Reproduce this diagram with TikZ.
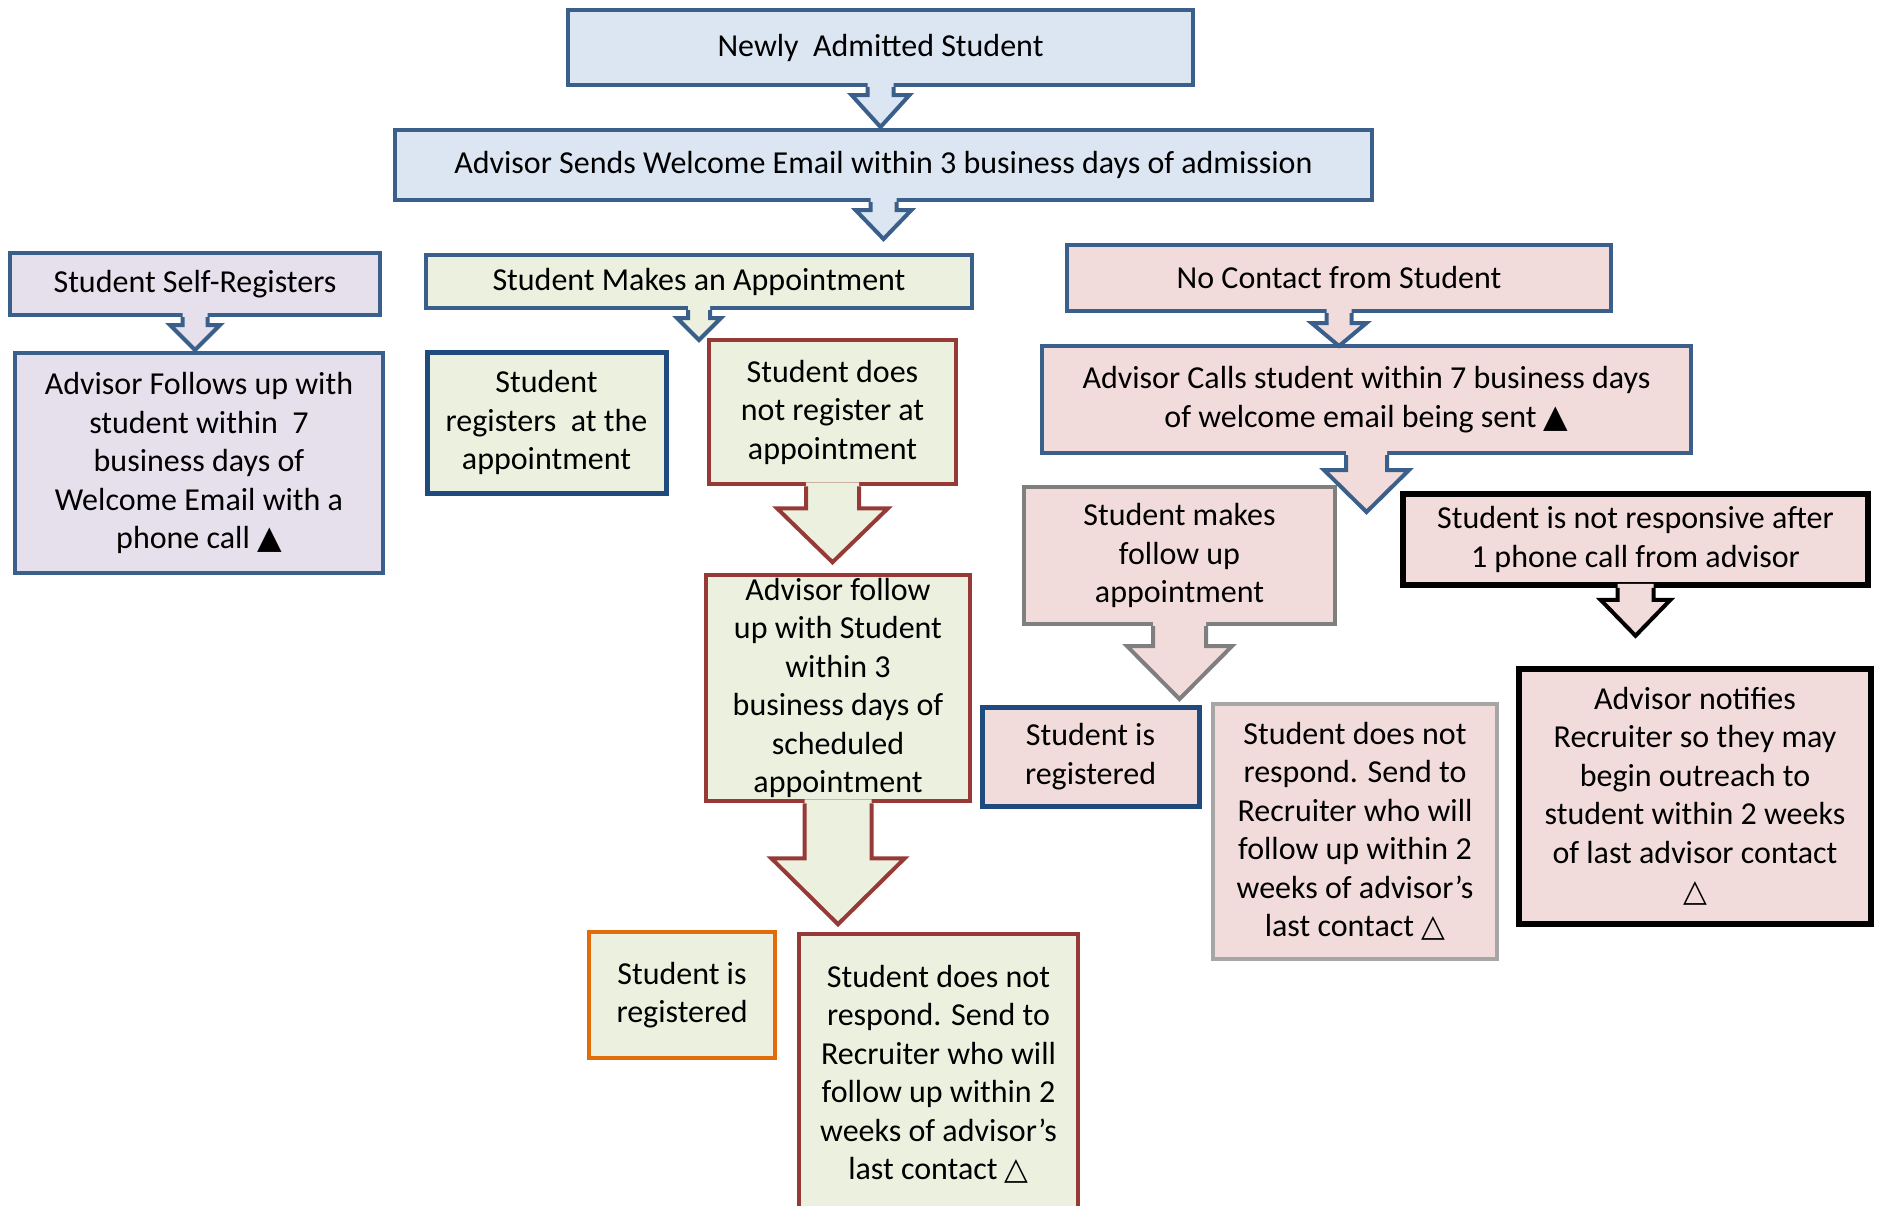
\documentclass[tikz,border=0pt]{standalone}
\usepackage{fontspec}
\setmainfont{Carlito}
\newfontfamily\symfont{DejaVu Sans}
\usetikzlibrary{calc}
\usepackage{xcolor}

\definecolor{bluefill}{HTML}{DCE6F2}
\definecolor{lilacfill}{HTML}{E6E0EC}
\definecolor{greenfill}{HTML}{EBF1DE}
\definecolor{pinkfill}{HTML}{F2DCDB}
\definecolor{blueline}{HTML}{3A5F8B}
\definecolor{darkblueline}{HTML}{1F4A7E}
\definecolor{redline}{HTML}{963A38}
\definecolor{orangeline}{HTML}{E36C0A}
\definecolor{grayline}{HTML}{7F7F7F}
\definecolor{lightgrayline}{HTML}{A6A6A6}

\newcommand{\up}{{\symfont\fontsize{32}{32}\selectfont ▲}}
\newcommand{\upo}{{\symfont\fontsize{31}{31}\selectfont △}}

% block arrow below a node: node, stem half, head half, head offset, tip offset, fill, line
\newcommand{\blockarrow}[7]{%
  \fill[#6] ($(#1.south)+(-#2,-4)$) -- ($(#1.south)+(-#2,#4)$) -- ($(#1.south)+(-#3,#4)$)
    -- ($(#1.south)+(0,#5)$) -- ($(#1.south)+(#3,#4)$) -- ($(#1.south)+(#2,#4)$)
    -- ($(#1.south)+(#2,-4)$) -- cycle;
  \draw[#7, line width=4] ($(#1.south)+(-#2,0)$) -- ($(#1.south)+(-#2,#4)$) -- ($(#1.south)+(-#3,#4)$)
    -- ($(#1.south)+(0,#5)$) -- ($(#1.south)+(#3,#4)$) -- ($(#1.south)+(#2,#4)$)
    -- ($(#1.south)+(#2,0)$);
}

\begin{document}
\begin{tikzpicture}[x=1pt,y=-1pt]
		% box styles
		\tikzstyle{box} = [rectangle, line width=4, align=center, inner sep=0pt, font=\fontsize{32}{38.5}\selectfont]
		\tikzstyle{bluebox} = [box, draw=blueline, fill=bluefill]
		\tikzstyle{lilacbox} = [box, draw=blueline, fill=lilacfill]
		\tikzstyle{greenbox} = [box, draw=blueline, fill=greenfill]
		\tikzstyle{regbox} = [box, draw=darkblueline, fill=greenfill, line width=5]
		\tikzstyle{redbox} = [box, draw=redline, fill=greenfill, line width=4.5]
		\tikzstyle{orangebox} = [box, draw=orangeline, fill=greenfill]
		\tikzstyle{pinkbox} = [box, draw=blueline, fill=pinkfill]
		\tikzstyle{graybox} = [box, draw=grayline, fill=pinkfill]
		\tikzstyle{lightgraybox} = [box, draw=lightgrayline, fill=pinkfill]
		\tikzstyle{blackbox} = [box, draw=black, fill=pinkfill, line width=5.5]
		\useasboundingbox (0,0) rectangle (1887,1205);

		\node (admitted) [bluebox, minimum width=625, minimum height=75] at (880.5,47.5) {Newly~ Admitted Student};
		\node (welcome) [bluebox, minimum width=977, minimum height=70] at (883.5,165) {Advisor Sends Welcome Email within 3 business days of admission};

		% self-registration branch
		\node (selfreg) [lilacbox, minimum width=370, minimum height=62] at (195,284) {Student Self-Registers};
		\node (follows) [lilacbox, minimum width=368, minimum height=220] at (199,463) {Advisor Follows up with\\student within~ 7\\business days of\\Welcome Email with a\\phone call \up};

		% appointment branch
		\node (makes) [greenbox, minimum width=546, minimum height=53] at (699,281.5) {Student Makes an Appointment};
		\node (attended) [regbox, minimum width=239, minimum height=141] at (546.5,422.5) {Student\\registers~ at the\\appointment};
		\node (missed) [redbox, minimum width=247, minimum height=144] at (832.5,412) {Student does\\not register at\\appointment};
		\node (followup) [redbox, minimum width=264, minimum height=226] at (838,688) {Advisor follow\\up with Student\\within 3\\business days of\\scheduled\\appointment};
		\node (regA) [orangebox, minimum width=186, minimum height=126] at (682,995) {Student is\\registered};
		\node (recruitA) [redbox, minimum width=279, minimum height=281] at (938.5,1074.5) {Student does not\\respond. Send to\\Recruiter who will\\follow up within 2\\weeks of advisor’s\\last contact \upo};

		% no contact branch
		\node (nocontact) [pinkbox, minimum width=544, minimum height=66] at (1339,278) {No Contact from Student};
		\node (calls) [pinkbox, minimum width=649, minimum height=107] at (1366.5,399.5) {Advisor Calls student within 7 business days\\of welcome email being sent \up};
		\node (followappt) [graybox, minimum width=311, minimum height=137] at (1179.5,555.5) {Student makes\\follow up\\appointment};
		\node (noresp) [blackbox, minimum width=465, minimum height=91] at (1635.5,539.5) {Student is not responsive after\\1 phone call from advisor};
		\node (regB) [regbox, fill=pinkfill, minimum width=217, minimum height=99] at (1090.5,756.5) {Student is\\registered};
		\node (recruitB) [lightgraybox, minimum width=284, minimum height=255] at (1355,831.5) {Student does not\\respond. Send to\\Recruiter who will\\follow up within 2\\weeks of advisor’s\\last contact \upo};
		\node (notify) [blackbox, minimum width=352, minimum height=255] at (1695,796.5) {Advisor notifies\\Recruiter so they may\\begin outreach to\\student within 2 weeks\\of last advisor contact\\\upo};

		% block arrows
		\blockarrow{admitted}{13}{29}{8}{40}{bluefill}{blueline}
		\blockarrow{welcome}{13}{28}{8}{37}{bluefill}{blueline}
		\blockarrow{selfreg}{12.5}{25}{8}{33}{lilacfill}{blueline}
		\blockarrow{makes}{11}{22}{8}{30}{greenfill}{blueline}
		\blockarrow{missed}{26.5}{55.5}{22}{76}{greenfill}{redline}
		\blockarrow{followup}{33.5}{66.7}{55}{121}{greenfill}{redline}
		\blockarrow{nocontact}{12.5}{27.5}{10}{33}{pinkfill}{blueline}
		\blockarrow{calls}{20.5}{42.5}{15}{57}{pinkfill}{blueline}
		\blockarrow{followappt}{26.5}{52.6}{20}{73}{pinkfill}{grayline}
		\blockarrow{noresp}{18}{35}{12}{48}{pinkfill}{black}
	\end{tikzpicture}
\end{document}
